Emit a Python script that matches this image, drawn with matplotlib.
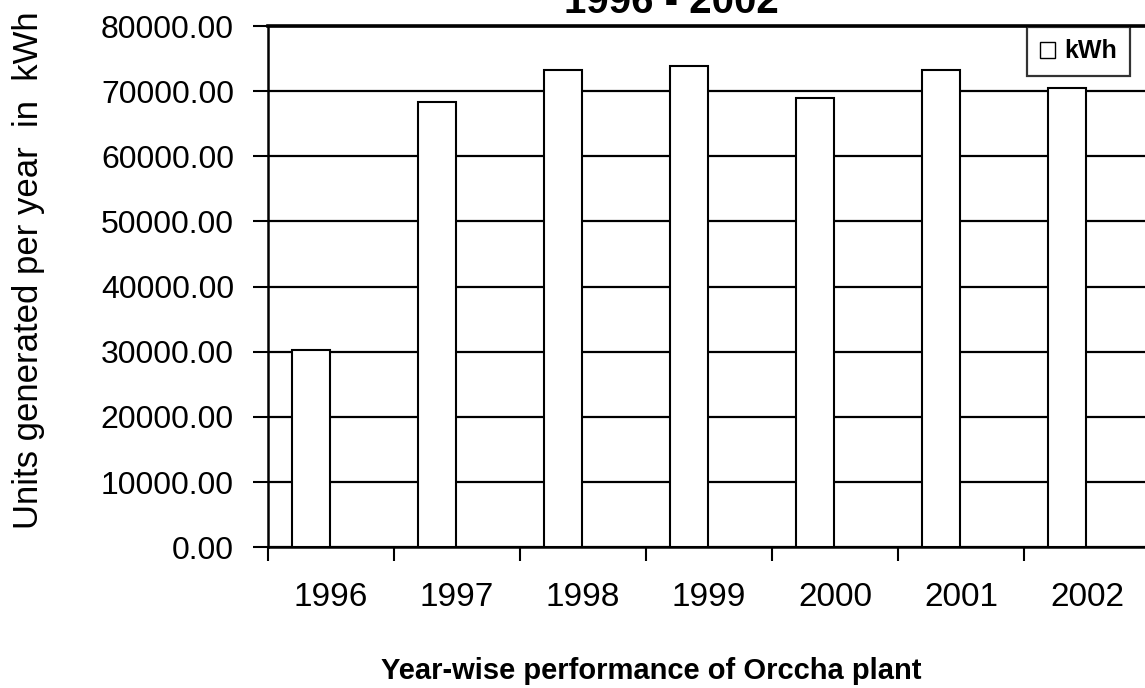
import matplotlib
matplotlib.use("Agg")
import matplotlib.pyplot as plt
import numpy as np

years = ["1996", "1997", "1998", "1999", "2000", "2001", "2002"]
kwh = [30300, 68300, 73200, 73850, 68900, 73200, 70450]
y_ticks = [0, 10000, 20000, 30000, 40000, 50000, 60000, 70000, 80000]

plt.rcParams['font.family'] = ['Liberation Sans', 'DejaVu Sans']

W, H = 1145, 688
fig = plt.figure(figsize=(W / 100, H / 100), dpi=100)
ax = fig.add_axes([268 / W, (H - 547.3) / H, 882 / W, 521.3 / H])

slots = np.arange(len(years))
ax.bar(slots + 0.19, kwh, width=0.305, align='edge',
       color='white', edgecolor='black', linewidth=1.5,
       label='kWh', zorder=3)

ax.set_xlim(0, len(years))
ax.set_ylim(0, 80000)
ax.set_yticks(y_ticks)
ax.set_yticklabels([f"{v:.2f}" for v in y_ticks], fontsize=23)
ax.yaxis.grid(True, color='black', linewidth=1.6, zorder=0)

# ticks sit on slot boundaries, year labels at slot centres
ax.set_xticks(slots)
ax.set_xticklabels([])
ax.set_xticks(slots + 0.5, minor=True)
ax.set_xticklabels(years, minor=True, fontsize=24)
ax.tick_params(axis='x', which='minor', length=0, pad=25)
ax.tick_params(axis='x', which='major', length=10, width=1.5, direction='out')
ax.tick_params(axis='y', length=11, width=1.5, direction='out', pad=13.5)

for side in ['left', 'bottom']:
    ax.spines[side].set_linewidth(1.8)
ax.spines['top'].set_linewidth(2.6)
ax.spines['right'].set_visible(False)

fig.text(29 / W, 1 - 270 / H, "Units generated per year  in  kWh", fontsize=25,
         rotation=90, ha='center', va='center')
fig.text(651 / W, 1 - 679 / H, "Year-wise performance of Orccha plant",
         fontsize=21, fontweight='bold', ha='center', va='baseline')
fig.text(671 / W, 1 - 13 / H, "1996 - 2002", fontsize=29,
         fontweight='bold', ha='center', va='baseline')

leg = ax.legend(loc='upper right', bbox_to_anchor=(1130 / W, 1 - 27 / H),
                bbox_transform=fig.transFigure, prop={'weight': 'bold', 'size': 18},
                frameon=True, fancybox=False, handlelength=0.6, handleheight=0.6,
                handletextpad=0.4, borderpad=0.5, borderaxespad=0)
leg.get_frame().set_edgecolor('black')
leg.get_frame().set_linewidth(1.6)
for h in leg.legend_handles:
    h.set_linewidth(1.0)

fig.savefig("out.png", dpi=100)
